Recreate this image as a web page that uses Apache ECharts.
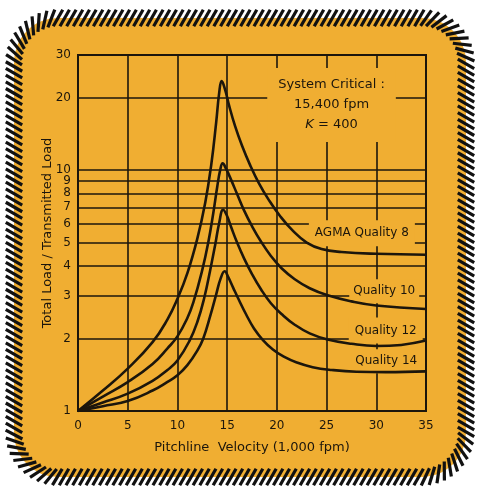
<!DOCTYPE html>
<html><head><meta charset="utf-8">
<script src="https://cdn.jsdelivr.net/npm/echarts@6/dist/echarts.min.js"></script>
<style>html,body{margin:0;padding:0;background:#fff}#c{width:481px;height:491px}</style>
</head><body><div id="c"></div>
<script>
// ---- data ----
const yTickValues = [1, 2, 3, 4, 5, 6, 7, 8, 9, 10, 20, 30];
const seriesNames = ['AGMA Quality 8', 'Quality 10', 'Quality 12', 'Quality 14'];

const q8Velocity = [0, 2.5, 5, 7.5, 9, 10, 11, 12, 12.8, 13.4, 13.9, 14.2, 14.45, 14.8, 15.2, 15.8, 16.5, 17.3, 18.2, 19.2, 20.3, 21.6, 23.0, 24.5, 26.5, 30, 35];
const q8Load     = [1, 1.216, 1.5, 1.93, 2.4, 2.92, 3.73, 5.19, 7.33, 10.5, 15.8, 20.9, 23.4, 21.5, 18.5, 15.2, 12.6, 10.5, 8.8, 7.5, 6.46, 5.6, 5.0, 4.7, 4.57, 4.49, 4.45];

const q10Velocity = [0, 2.5, 5, 7.5, 9, 10, 11, 11.6, 12.5, 13.1, 13.6, 14.0, 14.3, 14.55, 14.9, 15.4, 16.0, 16.7, 17.5, 18.4, 19.4, 20.5, 21.8, 23.3, 25.1, 27.5, 30, 35];
const q10Load     = [1, 1.148, 1.318, 1.567, 1.82, 2.04, 2.43, 2.82, 3.85, 5.0, 6.6, 8.5, 10.0, 10.65, 10.1, 9.1, 7.95, 6.8, 5.85, 5.05, 4.4, 3.9, 3.52, 3.23, 3.02, 2.85, 2.74, 2.65];

const q12Velocity = [0, 2.5, 5, 7.5, 9, 10, 11.2, 12.0, 12.7, 13.3, 13.8, 14.2, 14.6, 14.95, 15.4, 16.0, 16.7, 17.5, 18.4, 19.4, 20.5, 21.8, 23.3, 25.1, 27.5, 30, 32.5, 35];
const q12Load     = [1, 1.084, 1.18, 1.334, 1.48, 1.62, 1.95, 2.34, 2.95, 3.85, 4.9, 6.03, 6.84, 6.5, 5.8, 5.0, 4.3, 3.7, 3.2, 2.8, 2.52, 2.28, 2.1, 1.98, 1.9, 1.86, 1.88, 1.96];

const q14Velocity = [0, 2.5, 5, 7.5, 9, 10, 11, 12, 12.6, 13.3, 13.9, 14.35, 14.75, 15.1, 15.6, 16.2, 16.9, 17.7, 18.6, 19.6, 20.7, 22.0, 23.6, 25.5, 28, 31, 35];
const q14Load     = [1, 1.047, 1.10, 1.216, 1.32, 1.406, 1.55, 1.78, 2.0, 2.48, 3.05, 3.55, 3.8, 3.6, 3.25, 2.88, 2.52, 2.2, 1.97, 1.8, 1.68, 1.59, 1.52, 1.48, 1.455, 1.45, 1.46];

const annotationTexts = ['System Critical :\n15,400 fpm\n{k|K} = 400', 'AGMA Quality 8', 'Quality 10', 'Quality 12', 'Quality 14'];

// ---- layout / style ----
const INK = '#1c160c';
const ORANGE = '#f0ae32';
const FAM = '"DejaVu Sans", sans-serif';

function zip(xs, ys) { return xs.map((x, i) => [x, ys[i]]); }
const allData = [zip(q8Velocity, q8Load), zip(q10Velocity, q10Load), zip(q12Velocity, q12Load), zip(q14Velocity, q14Load)];

const chart = echarts.init(document.getElementById('c'), null, { renderer: 'canvas' });

const option = {
  backgroundColor: '#ffffff',
  animation: false,
  grid: { left: 78, right: 55, top: 55, bottom: 80, show: true, borderColor: INK, borderWidth: 2, backgroundColor: 'transparent' },
  xAxis: {
    type: 'value', min: 0, max: 35, interval: 5,
    axisLine: { show: true, lineStyle: { color: INK, width: 2 } },
    axisTick: { show: false },
    axisLabel: { color: INK, fontFamily: FAM, fontSize: 12, margin: 9 },
    splitLine: { show: true, lineStyle: { color: INK, width: 1.6 } },
    name: 'Pitchline  Velocity (1,000 fpm)', nameLocation: 'middle', nameGap: 30,
    nameTextStyle: { color: INK, fontFamily: FAM, fontSize: 13 }
  },
  yAxis: {
    type: 'log', logBase: 10, min: 1, max: 30,
    axisLine: { show: true, lineStyle: { color: INK, width: 2 } },
    axisTick: { show: false, customValues: yTickValues },
    axisLabel: { color: INK, fontFamily: FAM, fontSize: 12, margin: 7, customValues: yTickValues },
    splitLine: { show: true, lineStyle: { color: INK, width: 1.6 } },
    name: 'Total Load / Transmitted Load', nameLocation: 'middle', nameGap: 24, nameMoveOverlap: false,
    nameTextStyle: { color: INK, fontFamily: FAM, fontSize: 13 }
  },
  series: allData.map((d, i) => ({
    name: seriesNames[i], type: 'line', data: d, showSymbol: false, smooth: 0.45, z: 3,
    lineStyle: { color: INK, width: 2.6 }
  }))
};
chart.setOption(option);

// ---- decorative frame ----
function hatchFrame(x0, y0, x1, y1, r, stepTarget, len) {
  const segs = [
    { t: 'L', sx: x0 + r, sy: y0, ex: x1 - r, ey: y0 },
    { t: 'A', cx: x1 - r, cy: y0 + r, a0: -Math.PI / 2, a1: 0 },
    { t: 'L', sx: x1, sy: y0 + r, ex: x1, ey: y1 - r },
    { t: 'A', cx: x1 - r, cy: y1 - r, a0: 0, a1: Math.PI / 2 },
    { t: 'L', sx: x1 - r, sy: y1, ex: x0 + r, ey: y1 },
    { t: 'A', cx: x0 + r, cy: y1 - r, a0: Math.PI / 2, a1: Math.PI },
    { t: 'L', sx: x0, sy: y1 - r, ex: x0, ey: y0 + r },
    { t: 'A', cx: x0 + r, cy: y0 + r, a0: Math.PI, a1: 1.5 * Math.PI }
  ];
  segs.forEach(s => { s.len = s.t === 'L' ? Math.hypot(s.ex - s.sx, s.ey - s.sy) : r * Math.abs(s.a1 - s.a0); });
  const total = segs.reduce((a, s) => a + s.len, 0);
  const n = Math.round(total / stepTarget);
  const step = total / n;
  const c = Math.cos(Math.PI / 3), sn = Math.sin(Math.PI / 3);
  const out = [];
  for (let k = 0; k < n; k++) {
    let d = k * step, i = 0;
    while (d > segs[i].len && i < segs.length - 1) { d -= segs[i].len; i++; }
    const s = segs[i], f = d / s.len;
    let px, py, tx, ty;
    if (s.t === 'L') {
      px = s.sx + (s.ex - s.sx) * f; py = s.sy + (s.ey - s.sy) * f;
      tx = (s.ex - s.sx) / s.len; ty = (s.ey - s.sy) / s.len;
    } else {
      const a = s.a0 + (s.a1 - s.a0) * f;
      px = s.cx + r * Math.cos(a); py = s.cy + r * Math.sin(a);
      tx = -Math.sin(a); ty = Math.cos(a);
    }
    const dx = tx * c + ty * sn, dy = -tx * sn + ty * c;
    out.push({ type: 'line', silent: true, z: 100,
      shape: { x1: px - dx * len / 2, y1: py - dy * len / 2, x2: px + dx * len / 2, y2: py + dy * len / 2 },
      style: { stroke: '#111', lineWidth: 3.2 } });
  }
  return out;
}

// ---- annotations (anchored in data coordinates) ----
const annotationAnchors = [[25.5, 18.6], [28.55, 5.46], [30.8, 3.14], [30.95, 2.16], [31.0, 1.61]];
const annotationPads = [[7, 11], [6, 6], [5, 4], [6, 6], [5, 4]];
const annotationFont = [13, 12, 12, 12, 12];

const labelEls = annotationTexts.map((t, i) => {
  const p = chart.convertToPixel({ gridIndex: 0 }, annotationAnchors[i]);
  return {
    type: 'text', z: 1, silent: true, x: p[0], y: p[1],
    style: {
      text: t, fill: INK, font: annotationFont[i] + 'px ' + FAM,
      align: 'center', verticalAlign: 'middle', textAlign: 'center', textVerticalAlign: 'middle',
      lineHeight: i === 0 ? 20 : 14,
      backgroundColor: ORANGE, padding: annotationPads[i],
      rich: { k: { fontStyle: 'italic', fontSize: 13, fontFamily: FAM, fill: INK } }
    }
  };
});

chart.setOption({
  graphic: { elements: [
    { type: 'rect', z: -10, silent: true, shape: { x: 14, y: 18, width: 452, height: 459, r: 44 }, style: { fill: ORANGE } },
    ...hatchFrame(14, 18, 466, 477, 44, 6.7, 19),
    ...labelEls
  ] }
});
</script>
</body></html>
